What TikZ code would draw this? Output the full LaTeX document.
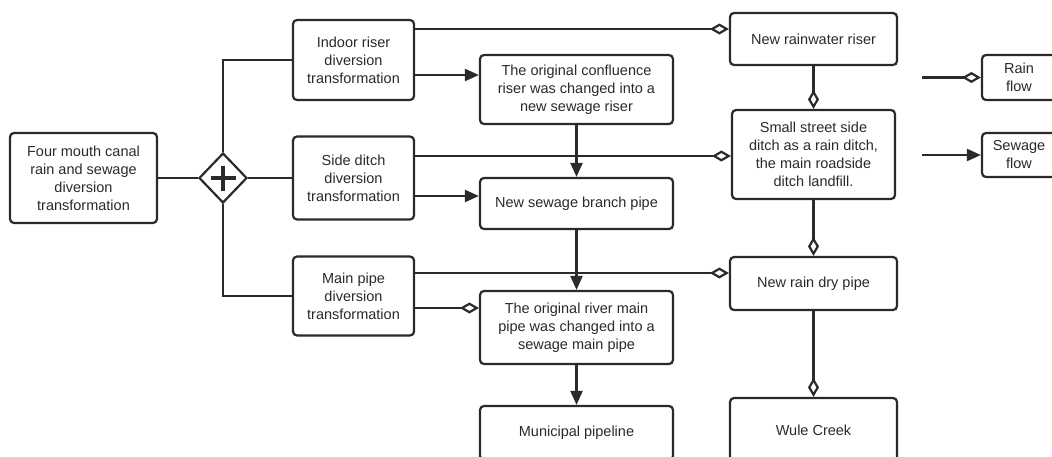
\documentclass[tikz,border=0pt]{standalone}
\usepackage{fontspec}
\setmainfont{Liberation Sans}
\usetikzlibrary{arrows.meta,shapes.geometric}
\definecolor{ink}{HTML}{2A2A2A}
\begin{document}
\begin{tikzpicture}[x=1pt,y=-1pt,
  box/.style={draw=ink,line width=2.2pt,rounded corners=4pt,fill=white,
    align=center,text=ink,inner sep=0pt,font=\fontsize{14.5}{18}\selectfont},
  conn/.style={draw=ink,line width=2.2pt},
  arr/.style={conn,-{Triangle[length=14pt,width=12pt]}},
  dia/.style={conn,-{Diamond[open,length=19pt,width=11pt,fill=white]}},
]
\useasboundingbox (0,0) rectangle (1052,456);
\clip (0,0) rectangle (1052,456);

\node[box,minimum width=147pt,minimum height=90pt] (four) at (83.5,178) {Four mouth canal\\rain and sewage\\diversion\\transformation};
\node[draw=ink,line width=2.2pt,diamond,fill=white,minimum width=48pt,minimum height=50pt,inner sep=0pt] (gw) at (223,178) {};
\draw[ink,line width=4.5pt] (gw.center) ++(-12.5,0) -- ++(25,0);
\draw[ink,line width=4.5pt] (gw.center) ++(0,-12.5) -- ++(0,25);

\node[box,minimum width=121pt,minimum height=80pt] (indoor) at (353.5,60) {Indoor riser\\diversion\\transformation};
\node[box,minimum width=121pt,minimum height=83pt] (side) at (353.5,178) {Side ditch\\diversion\\transformation};
\node[box,minimum width=121pt,minimum height=79pt] (mainp) at (353.5,296) {Main pipe\\diversion\\transformation};

\node[box,minimum width=193pt,minimum height=69pt] (conf) at (576.5,89.5) {The original confluence\\riser was changed into a\\new sewage riser};
\node[box,minimum width=193pt,minimum height=51pt] (branch) at (576.5,203.5) {New sewage branch pipe};
\node[box,minimum width=193pt,minimum height=73pt] (river) at (576.5,327.5) {The original river main\\pipe was changed into a\\sewage main pipe};
\node[box,minimum width=193pt,minimum height=54pt] (muni) at (576.5,433) {Municipal pipeline};

\node[box,minimum width=167pt,minimum height=52pt] (rainriser) at (813.5,39) {New rainwater riser};
\node[box,minimum width=163pt,minimum height=89pt] (street) at (813.5,154.5) {Small street side\\ditch as a rain ditch,\\the main roadside\\ditch landfill.};
\node[box,minimum width=167pt,minimum height=53pt] (raindry) at (813.5,283.5) {New rain dry pipe};
\node[box,minimum width=167pt,minimum height=64pt] (wule) at (813.5,430) {Wule Creek};

\node[box,minimum width=74pt,minimum height=45pt] (rainflow) at (1019,77.5) {Rain\\flow};
\node[box,minimum width=74pt,minimum height=44pt] (sewflow) at (1019,155) {Sewage\\flow};
\coordinate (rfstart) at (922,77.5);
\coordinate (sfstart) at (922,155);

% gateway connections
\draw[conn] (four.east) -- (gw.west);
\draw[conn] (gw.north) |- (indoor.west);
\draw[conn] (gw.east) -- (side.west);
\draw[conn] (gw.south) |- (mainp.west);

% indoor
\draw[dia] (indoor.east |- {(0,29)}) -- (rainriser.west |- {(0,29)});
\draw[arr] (indoor.east |- {(0,75)}) -- (conf.west |- {(0,75)});
% side ditch
\draw[dia] (side.east |- {(0,156)}) -- (street.west |- {(0,156)});
\draw[arr] (side.east |- {(0,196)}) -- (branch.west |- {(0,196)});
% main pipe
\draw[dia] (mainp.east |- {(0,273)}) -- (raindry.west |- {(0,273)});
\draw[dia] (mainp.east |- {(0,308)}) -- (river.west |- {(0,308)});

% middle column
\draw[arr] (conf.south) -- (branch.north);
\draw[arr] (branch.south) -- (river.north);
\draw[arr] (river.south) -- (muni.north);

% right column
\draw[dia] (rainriser.south) -- (street.north);
\draw[dia] (street.south) -- (raindry.north);
\draw[dia] (raindry.south) -- (wule.north);

% legend
\draw[dia] (rfstart) -- (rainflow.west);
\draw[arr] (sfstart) -- (sewflow.west);
\end{tikzpicture}
\end{document}
